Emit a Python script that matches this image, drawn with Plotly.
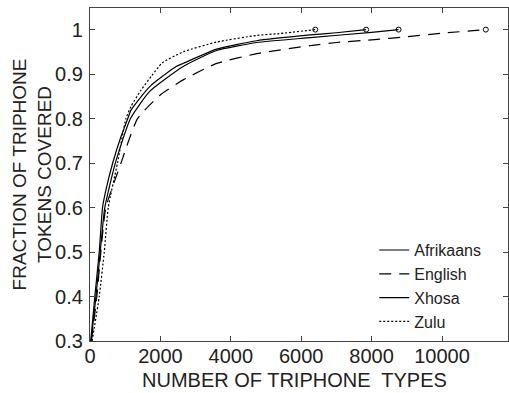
import plotly.graph_objects as go

# ---- data ----
afr_x = [20, 137, 262, 356, 451, 641, 879, 1074, 1164, 1696, 2446, 2646, 3597, 4738, 6257, 7000, 7845]
afr_y = [0.30, 0.40, 0.50, 0.60, 0.639, 0.699, 0.759, 0.800, 0.819, 0.872, 0.917, 0.924, 0.956, 0.975, 0.988, 0.993, 1.0]

eng_x = [40, 194, 308, 450, 880, 1350, 1981, 2646, 3597, 4738, 6257, 7000, 8000, 9000, 10000, 11245]
eng_y = [0.30, 0.40, 0.50, 0.60, 0.70, 0.80, 0.852, 0.887, 0.924, 0.946, 0.964, 0.971, 0.977, 0.984, 0.992, 1.0]

xho_x = [30, 170, 290, 420, 720, 1150, 1696, 2646, 3597, 4738, 6257, 8000, 8766]
xho_y = [0.30, 0.40, 0.50, 0.60, 0.70, 0.80, 0.861, 0.917, 0.953, 0.971, 0.982, 0.994, 1.0]

zul_x = [60, 262, 405, 519, 780, 1021, 1164, 1449, 1750, 2048, 2646, 3597, 4738, 5380, 6400]
zul_y = [0.30, 0.40, 0.50, 0.60, 0.70, 0.800, 0.827, 0.864, 0.896, 0.925, 0.950, 0.972, 0.987, 0.991, 1.0]

series = [
    ("Afrikaans", afr_x, afr_y, "solid"),
    ("English", eng_x, eng_y, "12px,8px"),
    ("Xhosa", xho_x, xho_y, "solid"),
    ("Zulu", zul_x, zul_y, "2px,2px"),
]

x_ticks = [0, 2000, 4000, 6000, 8000, 10000]
x_ticklabels = ["0", "2000", "4000", "6000", "8000", "10000"]
y_ticks = [0.3, 0.4, 0.5, 0.6, 0.7, 0.8, 0.9, 1.0]
y_ticklabels = ["0.3", "0.4", "0.5", "0.6", "0.7", "0.8", "0.9", "1"]

x_title = "NUMBER OF TRIPHONE\u00a0 TYPES"
y_title = "FRACTION OF TRIPHONE<br>TOKENS COVERED"

FONT = "Liberation Sans, Arial, sans-serif"
TXT = "#222"

fig = go.Figure()
for name, xs, ys, dash in series:
    fig.add_trace(go.Scatter(x=xs, y=ys, mode="lines", name=name,
                             line=dict(color="black", width=1.2, dash=dash,
                                       shape="spline", smoothing=0.5)))
for name, xs, ys, dash in series:
    fig.add_trace(go.Scatter(x=[xs[-1]], y=[ys[-1]], mode="markers", showlegend=False,
                             marker=dict(symbol="circle-open", size=5, color="black",
                                         line=dict(width=1, color="black"))))

axis_common = dict(showgrid=False, zeroline=False, showline=True, linecolor="#444",
                   linewidth=1.3, mirror="ticks", ticks="inside", ticklen=5,
                   tickcolor="#444", tickwidth=1, automargin=False,
                   tickfont=dict(family=FONT, size=20, color=TXT))

fig.update_xaxes(range=[0, 11875], tickvals=x_ticks, ticktext=x_ticklabels,
                 ticklabelstandoff=-3, **axis_common)
fig.update_yaxes(range=[0.3, 1.0486], tickvals=y_ticks, ticktext=y_ticklabels,
                 ticklabelstandoff=2, **axis_common)

fig.add_annotation(text=x_title, xref="paper", yref="paper", x=0.49, y=-0.117,
                   xanchor="center", yanchor="middle", showarrow=False,
                   font=dict(family=FONT, size=20, color=TXT))
fig.add_annotation(text=y_title, xref="paper", yref="paper", x=-0.139, y=0.5,
                   xanchor="center", yanchor="middle", showarrow=False, textangle=-90,
                   font=dict(family=FONT, size=19, color=TXT))

fig.update_layout(
    width=509, height=393,
    margin=dict(l=90, r=1, t=8, b=52),
    plot_bgcolor="white", paper_bgcolor="white",
    showlegend=True,
    legend=dict(x=0.680, y=0.324, xanchor="left", yanchor="top",
                bgcolor="rgba(0,0,0,0)", borderwidth=0,
                font=dict(family=FONT, size=16, color=TXT),
                tracegroupgap=0),
)

fig.write_html("out.html", config={"displayModeBar": False},
               post_script="document.body.style.margin='0';")
